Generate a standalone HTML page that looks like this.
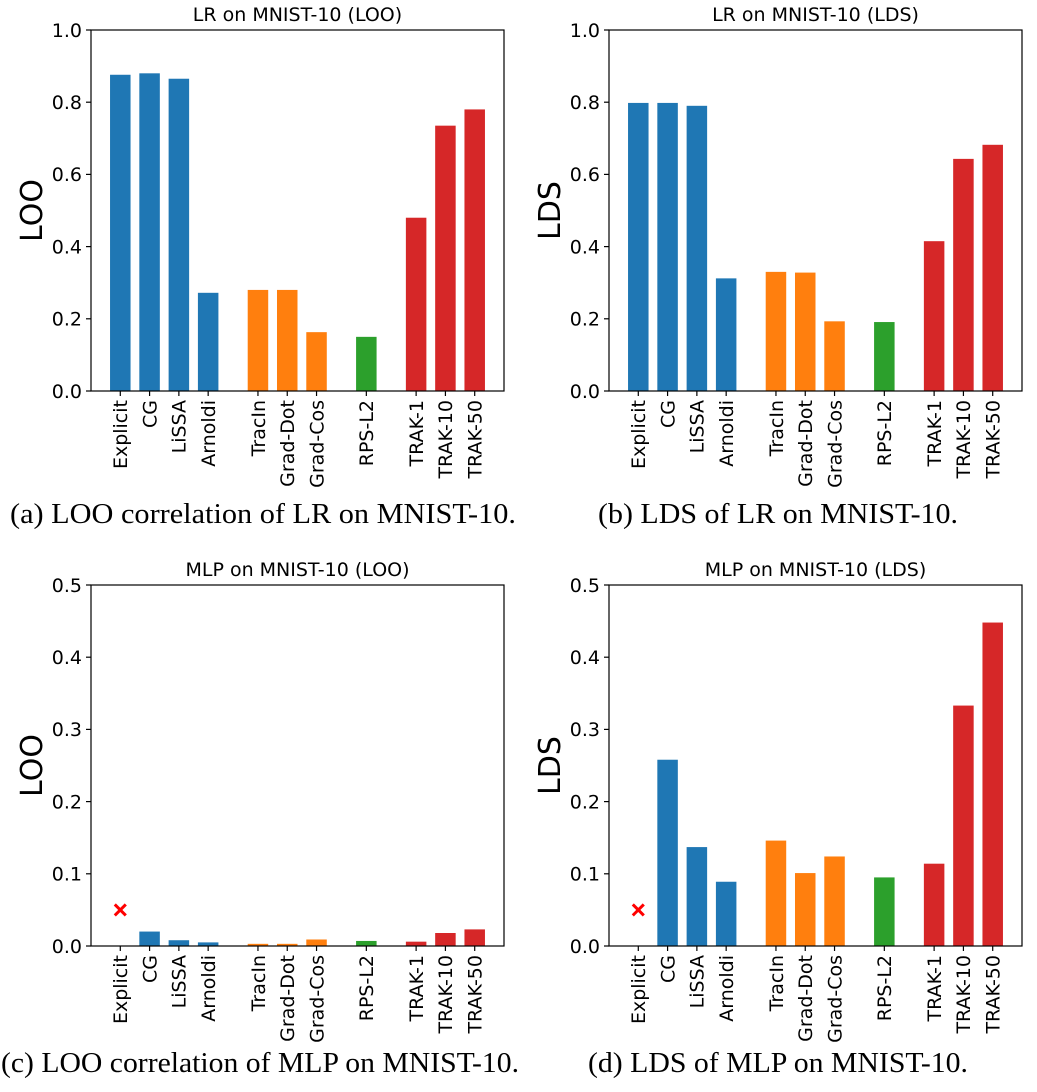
<!DOCTYPE html>
<html><head><meta charset="utf-8"><style>
html,body{margin:0;padding:0;background:#fff;}
svg{display:block;}
text{font-family:"DejaVu Sans","Liberation Sans",sans-serif;fill:#000;}
.cap{font-family:"Liberation Serif",serif;font-size:28px;}
</style></head><body>
<svg id="fig" width="1037" height="1092" viewBox="0 0 1037 1092" xmlns="http://www.w3.org/2000/svg">
<text class="cap" x="263" y="523" text-anchor="middle" textLength="506" lengthAdjust="spacingAndGlyphs">(a) LOO correlation of LR on MNIST-10.</text>
<text class="cap" x="778" y="523" text-anchor="middle" textLength="360" lengthAdjust="spacingAndGlyphs">(b) LDS of LR on MNIST-10.</text>
<text class="cap" x="260" y="1072" text-anchor="middle" textLength="518" lengthAdjust="spacingAndGlyphs">(c) LOO correlation of MLP on MNIST-10.</text>
<text class="cap" x="778" y="1072" text-anchor="middle" textLength="380" lengthAdjust="spacingAndGlyphs">(d) LDS of MLP on MNIST-10.</text>
</svg>
<script>
const categories = ["Explicit","CG","LiSSA","Arnoldi","TracIn","Grad-Dot","Grad-Cos","RPS-L2","TRAK-1","TRAK-10","TRAK-50"];
const positions = [0,1,2,3,4.7,5.7,6.7,8.4,10.1,11.1,12.1];
const groupOf = [0,0,0,0,1,1,1,2,3,3,3];
const lrLooValues = [0.876,0.880,0.865,0.272,0.280,0.280,0.163,0.150,0.480,0.735,0.780];
const lrLdsValues = [0.798,0.798,0.790,0.312,0.330,0.328,0.193,0.191,0.415,0.643,0.682];
const mlpLooValues = [null,0.020,0.008,0.005,0.003,0.003,0.009,0.007,0.006,0.018,0.023];
const mlpLdsValues = [null,0.258,0.137,0.089,0.146,0.101,0.124,0.095,0.114,0.333,0.448];
const missingMarkerValue = 0.05;
const ticksLR = [0,0.2,0.4,0.6,0.8,1.0];
const tickLabelsLR = ["0.0","0.2","0.4","0.6","0.8","1.0"];
const ticksMLP = [0,0.1,0.2,0.3,0.4,0.5];
const tickLabelsMLP = ["0.0","0.1","0.2","0.3","0.4","0.5"];
const colors = ["#1f77b4","#ff7f0e","#2ca02c","#d62728"];

const NS="http://www.w3.org/2000/svg";
const svg=document.getElementById('fig');
function mk(tag,attrs,parent){const e=document.createElementNS(NS,tag);for(const k in attrs)e.setAttribute(k,attrs[k]);(parent||svg).appendChild(e);return e;}

function chart(id,L,T,W,H,ymax,vals,ticks,tlabels,title,ylab){
  const g=mk('g',{});
  
  
  const xmin=-1,xmax=13.1;
  const xs=v=>L+(v-xmin)/(xmax-xmin)*W;
  const ys=v=>T+H-v/ymax*H;
  const bw=0.7*W/(xmax-xmin);
  vals.forEach((v,i)=>{
    if(v===null){
      const cx=xs(positions[i]),cy=ys(missingMarkerValue),s=5.5;
      const m=mk('path',{d:`M${cx-s},${cy-s}L${cx+s},${cy+s}M${cx-s},${cy+s}L${cx+s},${cy-s}`,stroke:'#ff0000','stroke-width':3,fill:'none'},g);
      
      
      return;
    }
    const r=mk('rect',{x:xs(positions[i])-bw/2,y:ys(v),width:bw,height:ys(0)-ys(v),fill:colors[groupOf[i]]},g);
    
    
  });
  const f=mk('rect',{x:L,y:T,width:W,height:H,fill:'none',stroke:'#000','stroke-width':1.2},g);
  
  
  ticks.forEach((t,i)=>{
    const y=ys(t);
    mk('line',{x1:L-5,x2:L,y1:y,y2:y,stroke:'#000','stroke-width':1.2},g);
    const tx=mk('text',{x:L-9,y:y,dy:'0.36em','text-anchor':'end','font-size':'19'},g);
    tx.textContent=tlabels[i];
    
    
  });
  categories.forEach((c,i)=>{
    const x=xs(positions[i]),y=T+H;
    mk('line',{x1:x,x2:x,y1:y,y2:y+5,stroke:'#000','stroke-width':1.2},g);
    const tx=mk('text',{x:x,y:y+9,dy:'0.36em','text-anchor':'end','font-size':'19',transform:`rotate(-90 ${x} ${y+9})`},g);
    tx.textContent=c;
    
    
  });
  const tt=mk('text',{x:L+W/2,y:T-9,'text-anchor':'middle','font-size':'19'},g);
  tt.textContent=title;
  
  
  const yl=mk('text',{x:L-60,y:T+H/2,dy:'0.36em','text-anchor':'middle','font-size':'30',transform:`rotate(-90 ${L-60} ${T+H/2})`},g);
  yl.textContent=ylab;
  
  
}
chart('chart-lr-loo',91,30,413,361,1.0,lrLooValues,ticksLR,tickLabelsLR,'LR on MNIST-10 (LOO)','LOO');
chart('chart-lr-lds',609,30,413,361,1.0,lrLdsValues,ticksLR,tickLabelsLR,'LR on MNIST-10 (LDS)','LDS');
chart('chart-mlp-loo',91,585,413,361,0.5,mlpLooValues,ticksMLP,tickLabelsMLP,'MLP on MNIST-10 (LOO)','LOO');
chart('chart-mlp-lds',609,585,413,361,0.5,mlpLdsValues,ticksMLP,tickLabelsMLP,'MLP on MNIST-10 (LDS)','LDS');
</script>
</body></html>
